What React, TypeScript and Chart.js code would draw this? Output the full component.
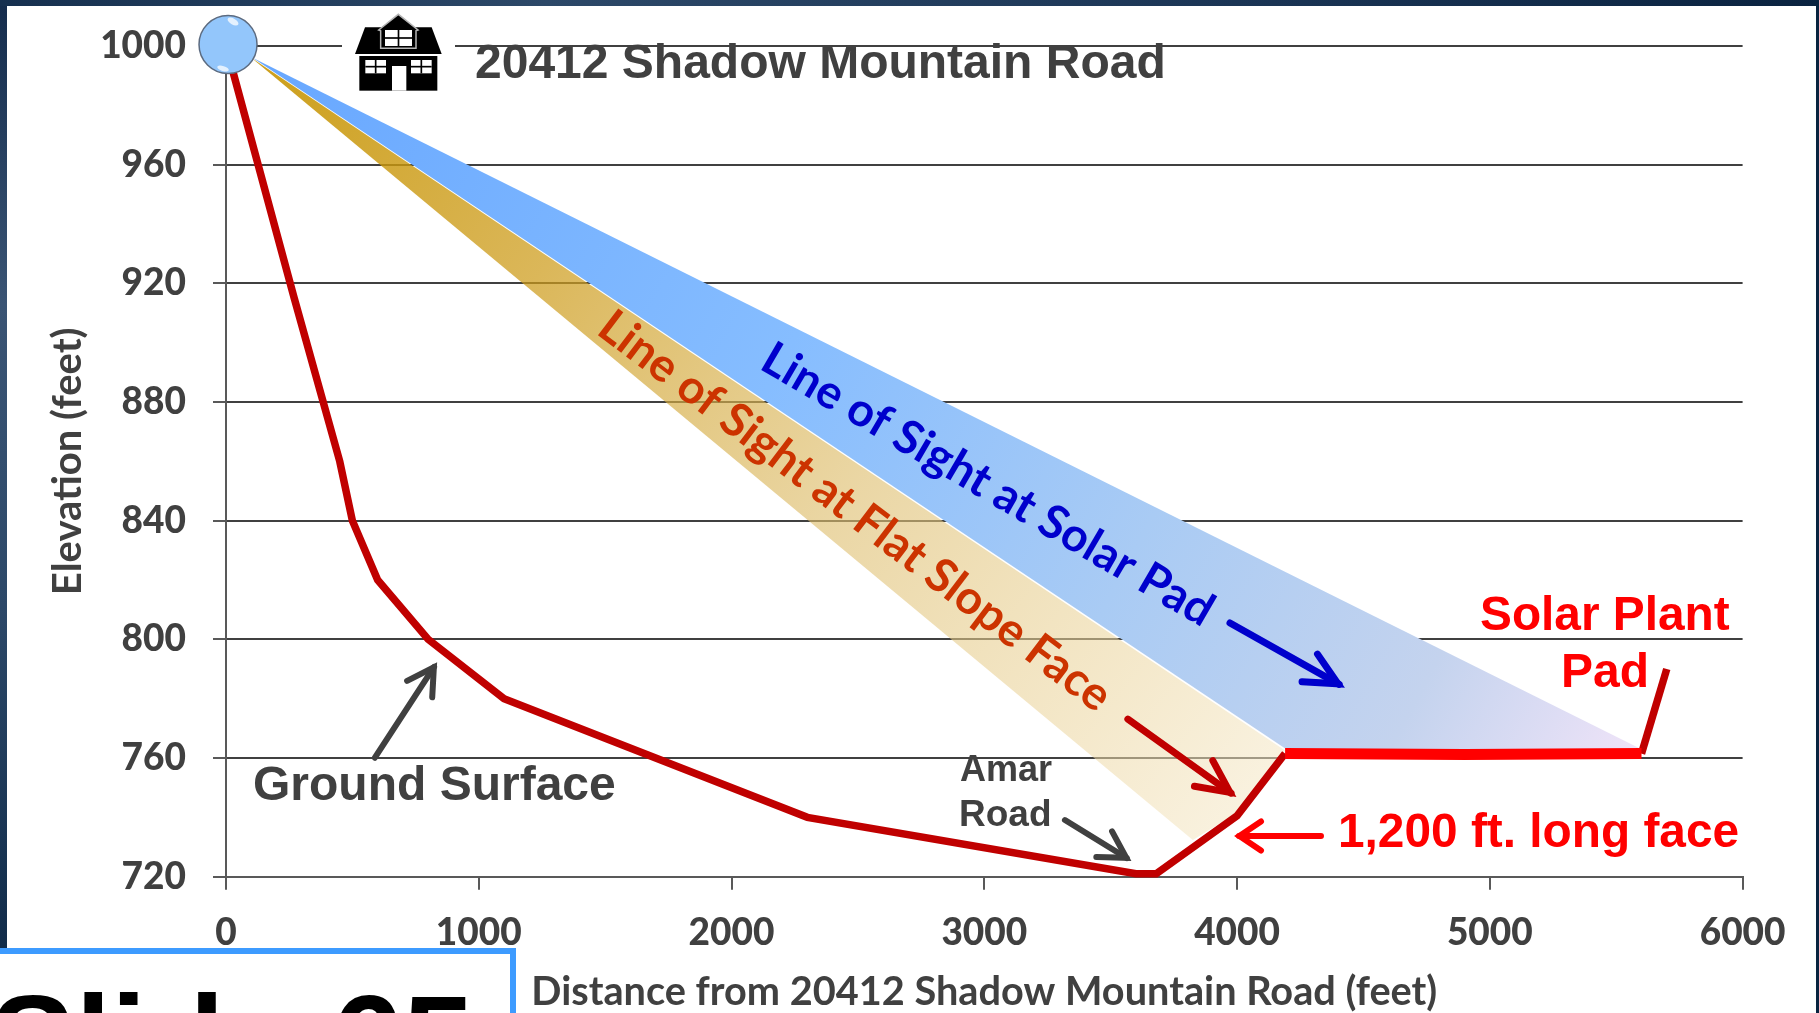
import React, { useEffect, useRef } from "react";
import { Chart, registerables } from "chart.js";

Chart.register(...registerables);

const xTicks = [0, 1000, 2000, 3000, 4000, 5000, 6000];
const yTicks = [720, 760, 800, 840, 880, 920, 960, 1000];

const groundX = [0, 270, 450, 500, 600, 800, 1100, 2300, 3600, 3680, 4000, 4190];
const groundY = [1000, 915, 860, 840, 820, 800, 780, 740, 721, 721, 740.5, 761.5];
const padX = [4190, 4900, 5600];
const padY = [761.5, 761.2, 761.5];
const riserX = [5600, 5700];
const riserY = [761.5, 790];
const blueUpperX = [105, 5600];
const blueUpperY = [996, 763];
const blueLowerX = [105, 4195, 5600];
const blueLowerY = [996, 763, 763];
const orangeUpperX = [100, 4190];
const orangeUpperY = [996, 762.5];
const orangeLowerX = [100, 3825, 4000, 4190];
const orangeLowerY = [996, 732.4, 741.5, 762.5];
const viewpointX = [8];
const viewpointY = [1000.5];

const arrowGroundX = [589, 834];
const arrowGroundY = [760.1, 792.1];
const arrowAmarX = [3319, 3580];
const arrowAmarY = [739.1, 725.4];
const arrowBlueX = [3972, 4421];
const arrowBlueY = [805.5, 784];
const arrowRedX = [3568, 3992];
const arrowRedY = [773.1, 747.2];
const arrowFaceX = [4332, 3988];
const arrowFaceY = [733.7, 733.7];

const pts = (xs: number[], ys: number[]) => xs.map((x, i) => ({ x, y: ys[i] }));
const DARK = "#404040";
const CAL = "Lato, sans-serif";
const ARIAL = '"Liberation Sans", Arial, sans-serif';

function blueFill(c: any) {
  const g = c.chart.ctx.createLinearGradient(226, 46, 1640, 790);
  g.addColorStop(0, "#66a6ff");
  g.addColorStop(0.4, "#86bdff");
  g.addColorStop(0.65, "#a9cbf4");
  g.addColorStop(0.85, "#c4d3ee");
  g.addColorStop(1, "#f3e5f9");
  return g;
}
function orangeFill(c: any) {
  const g = c.chart.ctx.createLinearGradient(226, 46, 1250, 830);
  g.addColorStop(0, "rgba(198,148,0,0.92)");
  g.addColorStop(0.3, "rgba(205,155,25,0.72)");
  g.addColorStop(0.6, "rgba(222,190,110,0.62)");
  g.addColorStop(0.85, "rgba(236,214,160,0.55)");
  g.addColorStop(1, "rgba(245,232,200,0.55)");
  return g;
}

function arrow(ctx: CanvasRenderingContext2D, chart: any, xs: number[], ys: number[], color: string, width: number, headLen = 36, half = 25) {
  const X = chart.scales.x, Y = chart.scales.y;
  const x0 = X.getPixelForValue(xs[0]), y0 = Y.getPixelForValue(ys[0]);
  const x1 = X.getPixelForValue(xs[1]), y1 = Y.getPixelForValue(ys[1]);
  const a = Math.atan2(y1 - y0, x1 - x0);
  const h = (half * Math.PI) / 180;
  ctx.save();
  ctx.strokeStyle = color;
  ctx.lineWidth = width;
  ctx.lineCap = "round";
  ctx.lineJoin = "miter";
  ctx.beginPath();
  ctx.moveTo(x0, y0);
  ctx.lineTo(x1 - Math.cos(a) * 5, y1 - Math.sin(a) * 5);
  ctx.stroke();
  const tx = x1 - Math.cos(a) * width * 0.9, ty = y1 - Math.sin(a) * width * 0.9;
  ctx.beginPath();
  ctx.moveTo(tx - Math.cos(a - h) * headLen, ty - Math.sin(a - h) * headLen);
  ctx.lineTo(tx, ty);
  ctx.lineTo(tx - Math.cos(a + h) * headLen, ty - Math.sin(a + h) * headLen);
  ctx.stroke();
  ctx.restore();
}

function label(ctx: CanvasRenderingContext2D, text: string, x: number, y: number, font: string, color: string, maxW?: number, rot = 0) {
  ctx.save();
  ctx.font = font;
  ctx.fillStyle = color;
  ctx.textAlign = "left";
  ctx.textBaseline = "alphabetic";
  ctx.translate(x, y);
  ctx.rotate((rot * Math.PI) / 180);
  if (maxW) ctx.fillText(text, 0, 0, maxW);
  else ctx.fillText(text, 0, 0);
  ctx.restore();
}

function house(ctx: CanvasRenderingContext2D) {
  const px = (v: number) => 330 + v / 3;
  const py = (v: number) => v / 3;
  const rect = (x0: number, y0: number, x1: number, y1: number) =>
    ctx.fillRect(px(x0), py(y0), (x1 - x0) / 3, (y1 - y0) / 3);
  const win = (x0: number, y0: number, x1: number, y1: number, bar = 5) => {
    ctx.fillStyle = "#fff";
    rect(x0, y0, x1, y1);
    ctx.fillStyle = "#000";
    const mx = (x0 + x1) / 2, my = (y0 + y1) / 2;
    rect(mx - bar / 2, y0, mx + bar / 2, y1);
    rect(x0, my - bar / 2, x1, my + bar / 2);
  };
  ctx.save();
  ctx.fillStyle = "#fff";
  ctx.fillRect(342, 8, 113, 92);
  ctx.fillStyle = "#000";
  ctx.beginPath();
  ctx.moveTo(px(75), py(162));
  ctx.lineTo(px(105), py(82));
  ctx.lineTo(px(305), py(82));
  ctx.lineTo(px(335), py(162));
  ctx.closePath();
  ctx.fill();
  rect(88, 168, 322, 272);
  ctx.fillStyle = "#fff";
  rect(186, 198, 229, 272);
  win(106, 180, 168, 220);
  win(243, 180, 305, 220);
  ctx.fillStyle = "#000";
  ctx.strokeStyle = "#b5b5b5";
  ctx.lineWidth = 1.5;
  ctx.beginPath();
  ctx.moveTo(px(146), py(90));
  ctx.lineTo(px(205), py(43));
  ctx.lineTo(px(264), py(90));
  ctx.lineTo(px(258), py(92));
  ctx.lineTo(px(258), py(145));
  ctx.lineTo(px(152), py(145));
  ctx.lineTo(px(152), py(92));
  ctx.closePath();
  ctx.fill();
  ctx.stroke();
  win(165, 90, 246, 138);
  ctx.restore();
}

const framePlugin = {
  id: "frame",
  beforeDraw(chart: any) {
    const { ctx, width, height } = chart;
    ctx.save();
    const v = ctx.createLinearGradient(0, 0, 0, height);
    v.addColorStop(0, "#142c4c");
    v.addColorStop(0.3, "#3a5474");
    v.addColorStop(0.6, "#2c4868");
    v.addColorStop(0.95, "#0f2a48");
    ctx.fillStyle = v;
    ctx.fillRect(0, 0, 7, height);
    const h = ctx.createLinearGradient(0, 0, width, 0);
    h.addColorStop(0, "#16304f");
    h.addColorStop(0.3, "#2c4868");
    h.addColorStop(0.7, "#1a3454");
    h.addColorStop(1, "#0a2340");
    ctx.fillStyle = h;
    ctx.fillRect(0, 0, width, 6);
    ctx.fillStyle = "#08233f";
    ctx.fillRect(1816, 0, 3, height);
    ctx.fillStyle = "#fff";
    ctx.fillRect(7, 6, 1809, height - 6);
    ctx.restore();
  },
};

const overlayPlugin = {
  id: "overlay",
  afterDatasetsDraw(chart: any) {
    const { ctx } = chart;
    house(ctx);

    const m = chart.getDatasetMeta(chart.data.datasets.length - 1).data[0];
    ctx.save();
    ctx.fillStyle = "rgba(255,255,255,0.75)";
    ctx.beginPath();
    ctx.ellipse(m.x + 5, m.y - 23, 6, 3, 0.5, 0, Math.PI * 2);
    ctx.fill();
    ctx.beginPath();
    ctx.ellipse(m.x - 5, m.y + 24, 6, 2.5, 0.3, 0, Math.PI * 2);
    ctx.fill();
    ctx.restore();

    label(ctx, "20412 Shadow Mountain Road", 475, 78, `bold 48px ${ARIAL}`, DARK);
    label(ctx, "Ground Surface", 253, 800, `bold 48px ${ARIAL}`, DARK);
    label(ctx, "Amar", 960, 781, `bold 36px ${ARIAL}`, DARK);
    label(ctx, "Road", 959, 826, `bold 37px ${ARIAL}`, DARK);
    label(ctx, "Solar Plant", 1480, 630, `bold 47.8px ${ARIAL}`, "#ff0000");
    label(ctx, "Pad", 1561, 687, `bold 48px ${ARIAL}`, "#ff0000");
    label(ctx, "1,200 ft. long face", 1338, 847, `bold 47.8px ${ARIAL}`, "#ff0000");
    label(ctx, "Line of Sight at Solar Pad", 758, 368, `bold 46.5px ${CAL}`, "#0000cc", 540, 30.3);
    label(ctx, "Line of Sight at Flat Slope Face", 595, 333, `bold 46.5px ${CAL}`, "#cc3300", 655, 37.2);

    arrow(ctx, chart, arrowGroundX, arrowGroundY, DARK, 6, 30, 30);
    arrow(ctx, chart, arrowAmarX, arrowAmarY, DARK, 6, 30, 30);
    arrow(ctx, chart, arrowBlueX, arrowBlueY, "#0000cc", 7, 36, 26);
    arrow(ctx, chart, arrowRedX, arrowRedY, "#c00000", 7, 36, 26);
    arrow(ctx, chart, arrowFaceX, arrowFaceY, "#ff0000", 6, 26, 34);
  },
  afterDraw(chart: any) {
    const { ctx, height } = chart;
    ctx.save();
    ctx.fillStyle = "#fff";
    ctx.fillRect(0, 948, 516, height - 948);
    ctx.fillStyle = "#3d9bff";
    ctx.fillRect(0, 948, 516, 6);
    ctx.fillRect(510, 948, 6, height - 948);
    ctx.restore();
    label(ctx, "Slide 65", -10, 1085, `bold 128px ${ARIAL}`, "#000000");
  },
};

export default function App() {
  const ref = useRef<HTMLCanvasElement | null>(null);
  useEffect(() => {
    if (!ref.current) return;
    const fillOnly = { showLine: true, borderWidth: 0, pointRadius: 0, clip: false as any };
    const chart = new Chart(ref.current, {
      type: "scatter",
      plugins: [framePlugin, overlayPlugin],
      data: {
        datasets: [
          { label: "Ground surface", data: pts(groundX, groundY), showLine: true, borderColor: "#c00000", borderWidth: 7.5, pointRadius: 0, clip: false as any, order: 1, borderJoinStyle: "miter" },
          { label: "Solar plant pad", data: pts(padX, padY), showLine: true, borderColor: "#ff0000", borderWidth: 11, pointRadius: 0, clip: false as any, order: 0 },
          { label: "Pad edge", data: pts(riserX, riserY), showLine: true, borderColor: "#c00000", borderWidth: 7.5, pointRadius: 0, clip: false as any, order: 1 },
          { label: "Orange lower", data: pts(orangeLowerX, orangeLowerY), ...fillOnly, order: 3 },
          { label: "Line of sight at flat slope face", data: pts(orangeUpperX, orangeUpperY), ...fillOnly, fill: { target: 3 }, backgroundColor: orangeFill, order: 3 },
          { label: "Blue lower", data: pts(blueLowerX, blueLowerY), ...fillOnly, order: 4 },
          { label: "Line of sight at solar pad", data: pts(blueUpperX, blueUpperY), ...fillOnly, fill: { target: 5 }, backgroundColor: blueFill, order: 4 },
          { label: "Viewpoint", data: pts(viewpointX, viewpointY), pointRadius: 29, pointBackgroundColor: "#93c6fb", pointBorderColor: "#5c6b80", pointBorderWidth: 1.5, clip: false as any, order: -1 },
        ] as any,
      },
      options: {
        responsive: false,
        animation: false,
        events: [],
        layout: { autoPadding: false, padding: { top: 46, right: 76.4, left: 0, bottom: 0 } },
        plugins: { legend: { display: false }, tooltip: { enabled: false }, title: { display: false } },
        scales: {
          x: {
            type: "linear",
            min: 0,
            max: 6000,
            afterBuildTicks: (a: any) => { a.ticks = xTicks.map((value) => ({ value })); },
            afterFit: (s: any) => { s.height = 136.3; s.paddingLeft = 0; s.paddingRight = 0; },
            grid: { drawOnChartArea: false, drawTicks: true, tickLength: 13, tickColor: "#595959", lineWidth: 2 },
            border: { color: "#595959", width: 2 },
            ticks: { padding: 21, maxRotation: 0, autoSkip: false, color: DARK, font: { family: "Lato", weight: "900", size: 37 }, callback: (v: any) => String(v) },
            title: { display: true, text: "Distance from 20412 Shadow Mountain Road (feet)", color: DARK, font: { family: "Lato", weight: "bold", size: 39.7 }, padding: { top: 0, bottom: -3 } },
          },
          y: {
            type: "linear",
            min: 720,
            max: 1000,
            afterBuildTicks: (a: any) => { a.ticks = yTicks.map((value) => ({ value })); },
            afterFit: (s: any) => { s.width = 226; s.paddingTop = 0; s.paddingBottom = 0; },
            grid: { color: "#404040", lineWidth: 2, tickLength: 13, tickColor: "#595959" },
            border: { color: "#595959", width: 2 },
            ticks: { padding: 27, autoSkip: false, color: DARK, font: { family: "Lato", weight: "900", size: 37 }, callback: (v: any) => String(v) },
            title: { display: true, text: "Elevation (feet)", color: DARK, font: { family: "Lato", weight: "bold", size: 40 }, padding: { top: 44, bottom: 0 } },
          },
        },
      } as any,
    });
    return () => chart.destroy();
  }, []);
  return <canvas ref={ref} width={1819} height={1013} style={{ position: "absolute", left: 0, top: 0, display: "block" }} />;
}
